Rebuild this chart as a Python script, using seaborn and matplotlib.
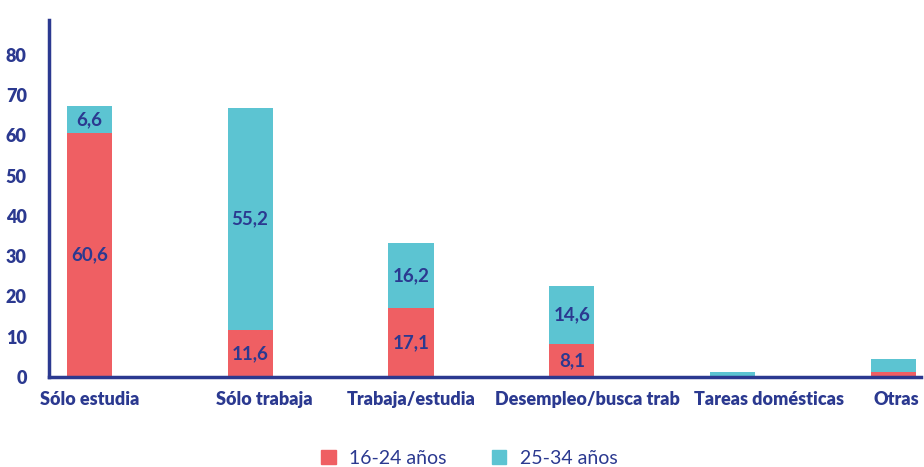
import pandas as pd
import matplotlib.pyplot as plt
import matplotlib.transforms as mtransforms
import seaborn as sns
from matplotlib.patches import Patch

# Data
categories = ['Sólo estudia', 'Sólo trabaja', 'Trabaja/estudia',
              'Desempleo/busca trab', 'Tareas domésticas', 'Otras']
joven = [60.6, 11.6, 17.1, 8.1, 0.2, 1.2]      # 16-24 años
adulto = [6.6, 55.2, 16.2, 14.6, 1.0, 3.3]     # 25-34 años
labels_joven = ['60,6', '11,6', '17,1', '8,1', '', '']
labels_adulto = ['6,6', '55,2', '16,2', '14,6', '', '']

RED = '#ef5f63'
TEAL = '#5cc4d2'
NAVY = '#2b3990'

df = pd.DataFrame({'cat': categories, 'joven': joven, 'adulto': adulto})
df['total'] = df['joven'] + df['adulto']

sns.set_style('white')
plt.rcParams['font.family'] = ['Lato', 'DejaVu Sans']

fig = plt.figure(figsize=(9.24, 4.67), dpi=100)
ax = fig.add_axes([49 / 924, 1 - 377 / 467, (921 - 49) / 924, (377 - 20) / 467])

sns.barplot(data=df, x='cat', y='total', color=TEAL, width=0.28,
            saturation=1, ax=ax, linewidth=0)
sns.barplot(data=df, x='cat', y='joven', color=RED, width=0.28,
            saturation=1, ax=ax, linewidth=0)

for i in range(len(categories)):
    if labels_joven[i]:
        ax.text(i, joven[i] / 2, labels_joven[i], ha='center', va='center',
                color=NAVY, fontsize=13.5, fontweight='bold')
    if labels_adulto[i]:
        ax.text(i, joven[i] + adulto[i] / 2, labels_adulto[i], ha='center',
                va='center', color=NAVY, fontsize=13.5, fontweight='bold')

ax.set_xlim(-0.25, 5.17)
ax.set_ylim(0, 88.6)
ax.set_yticks(range(0, 81, 10))
ax.set_xlabel('')
ax.set_ylabel('')
ax.tick_params(axis='both', length=0, colors=NAVY, labelsize=13)
ax.tick_params(axis='y', pad=16)
ax.tick_params(axis='x', pad=10)
for lab in ax.get_xticklabels() + ax.get_yticklabels():
    lab.set_fontweight('heavy')

# shift some category labels to the right so they don't collide
shifts = [0, 14, 0, 16, 36, 3]
for lab, dx in zip(ax.get_xticklabels(), shifts):
    lab.set_transform(lab.get_transform() +
                      mtransforms.ScaledTranslation(dx / 100, 0, fig.dpi_scale_trans))

for side in ['top', 'right']:
    ax.spines[side].set_visible(False)
for side in ['left', 'bottom']:
    ax.spines[side].set_color(NAVY)
    ax.spines[side].set_linewidth(2.5)

handles = [Patch(color=RED, label='16-24 años'), Patch(color=TEAL, label='25-34 años')]
fig.legend(handles=handles, loc='center', bbox_to_anchor=(0.508, 9 / 467),
           ncol=2, frameon=False, fontsize=14, labelcolor=NAVY,
           handlelength=0.75, handleheight=0.75, columnspacing=2.3, handletextpad=0.7)

fig.savefig('out.png', dpi=100)
